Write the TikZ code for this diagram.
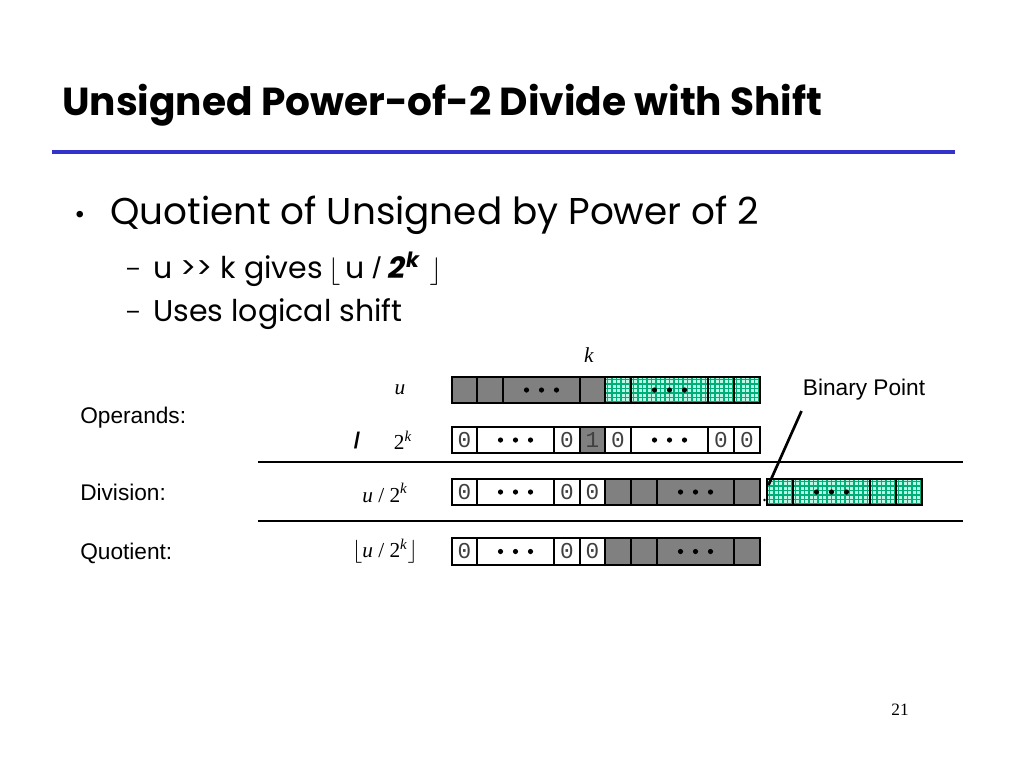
\documentclass[tikz,border=0pt]{standalone}
\usepackage{fontspec}
\setmainfont{Liberation Serif}
\newfontfamily\comicfont{Poppins}
\newfontfamily\arialfont{Liberation Sans}
\newfontfamily\monofont{Liberation Mono}
\definecolor{cellgray}{RGB}{128,128,128}
\definecolor{titleblue}{RGB}{51,51,204}
\definecolor{gridgreen}{RGB}{0,175,120}
\definecolor{gridbg}{RGB}{185,248,228}
\tikzset{
  cellborder/.style={draw=black, line width=2pt},
  grayfill/.style={fill=cellgray},
  whitefill/.style={fill=white},
  gridline/.style={draw=gridgreen, line width=0.85pt},
  rule/.style={draw=black, line width=2pt},
  bitlabel/.style={font=\monofont\fontsize{17}{17}\selectfont, text=black!75, inner sep=0pt},
  sidelabel/.style={font=\arialfont\fontsize{17}{17}\selectfont, anchor=base west, inner sep=0pt},
  mathlabel/.style={font=\fontsize{16}{16}\selectfont, inner sep=0pt},
  bodytext/.style={anchor=base west, inner sep=0pt, font=\comicfont\fontsize{22.5}{22.5}\selectfont},
  dashmark/.style={anchor=base west, inner sep=0pt, font=\comicfont\fontsize{17}{17}\selectfont},
  dotmark/.style={fill=black, draw=none},
}
\newcommand{\graycell}[4]{\draw[cellborder, grayfill] (#1,#2) rectangle (#3,#4);}
\newcommand{\whitecell}[5]{\draw[cellborder, whitefill] (#1,#2) rectangle (#3,#4);
  \node[bitlabel] at ({(#1+#3)/2},{(#2+#4)/2}) {#5};}
\newcommand{\greencell}[4]{%
  \begin{scope}
    \clip (#1,#2) rectangle (#3,#4);
    \fill[gridbg] (#1,#2) rectangle (#3,#4);
    \foreach \g in {2.5,7,...,80} {\draw[gridline] ({#1+\g},#2) -- ({#1+\g},#4);}
    \foreach \g in {2.5,7,...,30} {\draw[gridline] (#1,{#2+\g}) -- (#3,{#2+\g});}
  \end{scope}
  \draw[cellborder] (#1,#2) rectangle (#3,#4);}
\newcommand{\threedots}[2]{%
  \foreach \d in {-15,0,15} {\fill[dotmark] ({#1+\d},#2) circle (2.6);}}
\begin{document}
\begin{tikzpicture}[x=0.75pt, y=-0.75pt]
\useasboundingbox (0,0) rectangle (1024,768);
\fill[white] (0,0) rectangle (1024,768);

% title
\node[anchor=base west, inner sep=0pt, font=\comicfont\bfseries\fontsize{29.3}{29.3}\selectfont] (title) at (62,115) {Unsigned Power-of-2 Divide with Shift};
\draw[titleblue, line width=3pt] (52,152) -- (955,152);

% bullets
\node[anchor=base west, inner sep=0pt, font=\comicfont\fontsize{20}{20}\selectfont] (b1) at (74,223) {•};
\node[anchor=base west, inner sep=0pt, font=\comicfont\fontsize{28}{28}\selectfont] (b1t) at (110,224) {Quotient of Unsigned by Power of 2};
\node[dashmark] (b2) at (125,277) {–};
\node[bodytext] (b2t) at (153,278) {u >> k gives\,$\lfloor$\,u {\arialfont/} \textbf{\itshape 2\textsuperscript{k}}\,\,$\rfloor$};
\node[dashmark] (b3) at (125,320) {–};
\node[bodytext] (b3t) at (153,321) {Uses logical shift};

% side labels
\node[sidelabel] (ops) at (80,423) {Operands:};
\node[sidelabel] (div) at (80,500) {Division:};
\node[sidelabel] (quo) at (80,559) {Quotient:};

% labels in Times
\node[mathlabel] (klab) at (589,355) {\textit{k}};
\node[mathlabel] (ulab) at (400,390) {\textit{u}};
\node[inner sep=0pt, font=\arialfont\bfseries\fontsize{17}{17}\selectfont] (slash) at (357,441) {/};
\node[mathlabel] (tk) at (403,440) {2\textsuperscript{\textit{k}}};
\node[mathlabel] (udiv) at (385,493) {\textit{u} / 2\textsuperscript{\textit{k}}};
\node[mathlabel] (ufloor) at (385,551) {$\lfloor$\textit{u} / 2\textsuperscript{\textit{k}}$\rfloor$};

% rules
\draw[rule] (258,462) -- (963,462);
\draw[rule] (258,521) -- (963,521);

% row 1: u
\graycell{452}{377}{477}{403}
\graycell{477}{377}{503}{403}
\graycell{503}{377}{580}{403}\threedots{541.5}{390}
\graycell{580}{377}{605}{403}
\greencell{605}{377}{631}{403}
\greencell{631}{377}{708}{403}\threedots{669.5}{390}
\greencell{708}{377}{734}{403}
\greencell{734}{377}{760}{403}

% row 2: 2^k
\whitecell{452}{427}{477}{453}{0}
\whitecell{477}{427}{554}{453}{}\threedots{515.5}{440}
\whitecell{554}{427}{580}{453}{0}
\graycell{580}{427}{605}{453}\node[bitlabel] at (592.5,440) {1};
\whitecell{605}{427}{631}{453}{0}
\whitecell{631}{427}{708}{453}{}\threedots{669.5}{440}
\whitecell{708}{427}{734}{453}{0}
\whitecell{734}{427}{760}{453}{0}

% row 3: division
\whitecell{452}{479}{477}{505}{0}
\whitecell{477}{479}{554}{505}{}\threedots{515.5}{492}
\whitecell{554}{479}{580}{505}{0}
\whitecell{580}{479}{605}{505}{0}
\graycell{605}{479}{631}{505}
\graycell{631}{479}{657}{505}
\graycell{657}{479}{734}{505}\threedots{695.5}{492}
\graycell{734}{479}{760}{505}
\fill (764.5,500) circle (1.3);
\greencell{767}{479}{793}{505}
\greencell{793}{479}{870}{505}\threedots{831.5}{492}
\greencell{870}{479}{896}{505}
\greencell{896}{479}{922}{505}

% row 4: quotient
\whitecell{452}{538}{477}{565}{0}
\whitecell{477}{538}{554}{565}{}\threedots{515.5}{551.5}
\whitecell{554}{538}{580}{565}{0}
\whitecell{580}{538}{605}{565}{0}
\graycell{605}{538}{631}{565}
\graycell{631}{538}{657}{565}
\graycell{657}{538}{734}{565}\threedots{695.5}{551.5}
\graycell{734}{538}{760}{565}

% binary point
\node[font=\arialfont\fontsize{17}{17}\selectfont, inner sep=1pt] (bp) at (864,390) {Binary Point};
\coordinate (bpend) at (768.5,485);
\draw[black, line width=2pt] (801.5,411) -- (bpend);

% page number
\node[font=\fontsize{13}{13}\selectfont, inner sep=0pt] (pg) at (900,710) {21};
\end{tikzpicture}
\end{document}
